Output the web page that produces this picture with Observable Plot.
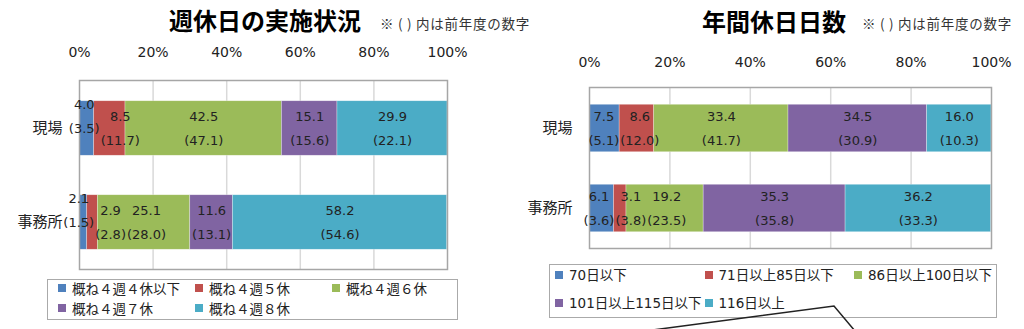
<!DOCTYPE html>
<html><head><meta charset="utf-8">
<script src="https://cdn.jsdelivr.net/npm/d3@7"></script>
<script src="https://cdn.jsdelivr.net/npm/@observablehq/plot@0.6"></script>
<style>
html,body{margin:0;padding:0;background:#fff;width:1024px;height:329px;overflow:hidden}
#root{position:relative;width:1024px;height:329px;font-family:"DejaVu Sans","Noto Sans CJK JP",sans-serif;color:#222}
.panel{position:absolute;top:0;width:512px;height:329px}
.title{position:absolute;font-family:"Noto Sans CJK JP",sans-serif;font-weight:700;font-size:24px;line-height:24px;white-space:nowrap;transform:translateX(-50%);color:#000}
.note{position:absolute;font-family:"Noto Sans CJK JP",sans-serif;font-size:13.5px;line-height:14px;white-space:nowrap;color:#333}
.chart{position:absolute;left:0}
.legend{position:absolute;border:1.5px solid #aaa;background:#fff;box-sizing:border-box}
.item{position:absolute;display:flex;align-items:center;font-size:13.5px;line-height:16px;white-space:nowrap;transform:translateY(-50%)}
.sw{width:8px;height:8px;margin-right:6px;flex:none}
#deco{position:absolute;left:0;top:0;pointer-events:none}
</style></head><body><div id="root"></div>
<script>
// ---- data ----
const categories = ["現場", "事務所"];
const xTicks = [0, 20, 40, 60, 80, 100];
const gridTicks = [20, 40, 60, 80];
const colors = ["#4F81BD", "#C0504D", "#9BBB59", "#8064A2", "#4BACC6"];

const weeklySeries = ["概ね４週４休以下", "概ね４週５休", "概ね４週６休", "概ね４週７休", "概ね４週８休"];
const weeklyGenbaNow = [4.0, 8.5, 42.5, 15.1, 29.9];
const weeklyGenbaPrev = [3.5, 11.7, 47.1, 15.6, 22.1];
const weeklyOfficeNow = [2.1, 2.9, 25.1, 11.6, 58.2];
const weeklyOfficePrev = [1.5, 2.8, 28.0, 13.1, 54.6];

const annualSeries = ["70日以下", "71日以上85日以下", "86日以上100日以下", "101日以上115日以下", "116日以上"];
const annualGenbaNow = [7.5, 8.6, 33.4, 34.5, 16.0];
const annualGenbaPrev = [5.1, 12.0, 41.7, 30.9, 10.3];
const annualOfficeNow = [6.1, 3.1, 19.2, 35.3, 36.2];
const annualOfficePrev = [3.6, 3.8, 23.5, 35.8, 33.3];

const noteText = "※ ( ) 内は前年度の数字";

// ---- helpers ----
const LABEL_FONT = 13;
const ctx = document.createElement("canvas").getContext("2d");
ctx.font = LABEL_FONT + "px 'DejaVu Sans'";
const fmt = v => v.toFixed(1);

function buildRows(series, nowArrs, prevArrs) {
  const rows = [];
  categories.forEach((cat, ci) => {
    let acc = 0;
    series.forEach((s, si) => {
      const v = nowArrs[ci][si];
      rows.push({cat, series: s, index: si, value: v, prev: prevArrs[ci][si], x1: acc, x2: acc + v,
                 nowText: fmt(v), prevText: "(" + fmt(prevArrs[ci][si]) + ")"});
      acc += v;
    });
  });
  return rows;
}

// each label is a two-line block (value / (previous)) centred together;
// blocks that would collide are pushed apart (mostly to the right).
function spread(rows, k) {
  categories.forEach(cat => {
    const items = rows.filter(d => d.cat === cat);
    const xs = items.map(d => (d.x1 + d.x2) / 2 * k);
    const ws = items.map(d => Math.max(ctx.measureText(d.nowText).width, ctx.measureText(d.prevText).width));
    for (let p = 0; p < 40; p++) {
      for (let i = 0; i < items.length - 1; i++) {
        const ov = xs[i] + ws[i] / 2 + 1 - (xs[i + 1] - ws[i + 1] / 2);
        if (ov > 0) { xs[i] -= ov * 0.2; xs[i + 1] += ov * 0.8; }
      }
    }
    items.forEach((d, i) => {
      d.lx = xs[i] / k;
      // a very thin first segment carries its block raised toward the bar top
      const raised = d.index === 0 && d.value < 5;
      d.dyNow = raised ? -24 : -12;
      d.dyPrev = raised ? 0 : 12;
    });
  });
}

function drawPanel(cfg) {
  const panel = document.createElement("div");
  panel.className = "panel";
  panel.style.left = cfg.left + "px";
  document.getElementById("root").appendChild(panel);

  const t = document.createElement("div");
  t.className = "title"; t.textContent = cfg.title;
  t.style.left = cfg.titleX + "px"; t.style.top = cfg.titleTop + "px";
  panel.appendChild(t);
  const n = document.createElement("div");
  n.className = "note"; n.textContent = noteText;
  n.style.left = cfg.noteX + "px"; n.style.top = cfg.noteTop + "px";
  panel.appendChild(n);
  const nw = n.getBoundingClientRect().width;
  const chars = [...noteText].length;
  n.style.letterSpacing = ((cfg.noteW - nw) / chars) + "px";

  const rows = buildRows(cfg.series, cfg.now, cfg.prev);
  const plotW = 512 - cfg.marginLeft - cfg.marginRight;
  const k = plotW / 100;
  spread(rows, k);

  const plot = Plot.plot({
    width: 512, height: cfg.height,
    marginLeft: cfg.marginLeft, marginRight: cfg.marginRight,
    marginTop: cfg.marginTop, marginBottom: cfg.marginBottom,
    style: {fontFamily: "'DejaVu Sans','Noto Sans CJK JP',sans-serif", fontSize: "14px", color: "#222", background: "transparent", overflow: "visible"},
    x: {domain: [0, 100], label: null},
    y: {domain: categories, padding: 0, label: null},
    color: {domain: cfg.series, range: colors},
    marks: [
      Plot.gridX(gridTicks, {stroke: "#d9d9d9", strokeOpacity: 1, strokeWidth: 1.5}),
      Plot.barX(rows, {x1: "x1", x2: "x2", y: "cat", fill: "series",
        insetTop: cfg.inset, insetBottom: cfg.inset, stroke: "#fff", strokeOpacity: 0.5, strokeWidth: 0.6}),
      Plot.frame({stroke: "#a6a6a6", strokeWidth: 1.5}),
      Plot.axisX(xTicks, {anchor: "top", tickSize: 0, tickPadding: cfg.tickPad, tickFormat: d => d + "%", fontSize: 14, label: null}),
      Plot.axisY({tickSize: 0, tickPadding: cfg.catPad, fontSize: 15, fontFamily: "'Noto Sans CJK JP',sans-serif", label: null}),
      Plot.text(rows.filter(d => d.dyNow === -12), {x: "lx", y: "cat", text: "nowText", dy: -12, fontSize: LABEL_FONT, fill: "#222"}),
      Plot.text(rows.filter(d => d.dyNow === -24), {x: "lx", y: "cat", text: "nowText", dy: -24, fontSize: LABEL_FONT, fill: "#222"}),
      Plot.text(rows.filter(d => d.dyPrev === 12), {x: "lx", y: "cat", text: "prevText", dy: 12, fontSize: LABEL_FONT, fill: "#222"}),
      Plot.text(rows.filter(d => d.dyPrev === 0), {x: "lx", y: "cat", text: "prevText", dy: 0, fontSize: LABEL_FONT, fill: "#222"})
    ]
  });
  plot.classList.add("chart");
  plot.style.top = cfg.svgTop + "px";
  panel.appendChild(plot);

  const lg = document.createElement("div");
  lg.className = "legend";
  Object.assign(lg.style, {left: cfg.lg.x + "px", top: cfg.lg.y + "px", width: cfg.lg.w + "px", height: cfg.lg.h + "px"});
  const color = plot.scale("color");
  cfg.series.forEach((s, i) => {
    const col = i % 3, row = Math.floor(i / 3);
    const it = document.createElement("div");
    it.className = "item";
    it.style.left = (cfg.lg.col0 + col * cfg.lg.colW) + "px";
    it.style.top = (cfg.lg.row0 + row * cfg.lg.rowH) + "px";
    const sw = document.createElement("span");
    sw.className = "sw"; sw.style.background = color.apply(s);
    const tx = document.createElement("span");
    tx.textContent = s;
    if (cfg.lg.cjk) tx.style.fontFamily = "'Noto Sans CJK JP',sans-serif";
    it.appendChild(sw); it.appendChild(tx);
    lg.appendChild(it);
  });
  panel.appendChild(lg);
}

drawPanel({
  left: 0, title: "週休日の実施状況", titleX: 265, titleTop: 8, noteX: 380, noteTop: 16, noteW: 150,
  series: weeklySeries, now: [weeklyGenbaNow, weeklyOfficeNow], prev: [weeklyGenbaPrev, weeklyOfficePrev],
  svgTop: 40, height: 232, marginTop: 40, marginBottom: 3, marginLeft: 79, marginRight: 65,
  inset: 19.75, tickPad: 24, catPad: 17,
  lg: {x: 47, y: 279, w: 411, h: 41, col0: 10, colW: 137, row0: 8, rowH: 20, cjk: true}
});

drawPanel({
  left: 512, title: "年間休日日数", titleX: 262, titleTop: 9, noteX: 350, noteTop: 16, noteW: 150,
  series: annualSeries, now: [annualGenbaNow, annualOfficeNow], prev: [annualGenbaPrev, annualOfficePrev],
  svgTop: 40, height: 211, marginTop: 47, marginBottom: 3, marginLeft: 77, marginRight: 33,
  inset: 16.25, tickPad: 21, catPad: 17,
  lg: {x: 37, y: 264, w: 448, h: 54, col0: 5, colW: 149.5, row0: 10, rowH: 28, cjk: false}
});

// decorative callout line from the source document
const deco = document.createElementNS("http://www.w3.org/2000/svg", "svg");
deco.setAttribute("id", "deco"); deco.setAttribute("width", 1024); deco.setAttribute("height", 329);
const pl = document.createElementNS("http://www.w3.org/2000/svg", "polyline");
pl.setAttribute("points", "645,331 834,306 855,331");
pl.setAttribute("fill", "none"); pl.setAttribute("stroke", "#222"); pl.setAttribute("stroke-width", "1.5");
deco.appendChild(pl);
document.getElementById("root").appendChild(deco);
</script>
</body></html>
